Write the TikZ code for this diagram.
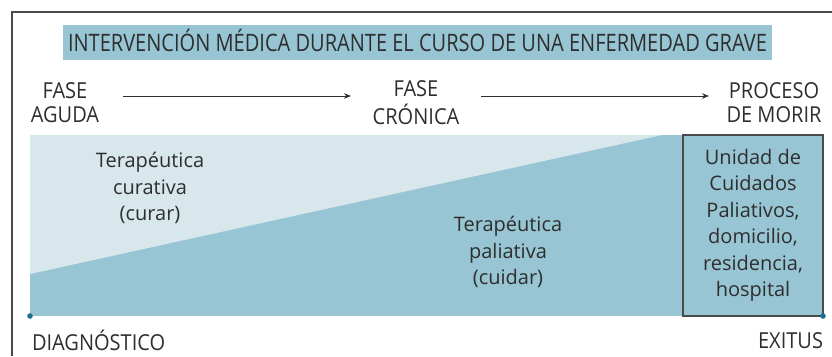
\documentclass[tikz,border=0pt]{standalone}
\usepackage{fontspec}
\setmainfont{Open Sans}
\usetikzlibrary{arrows.meta}
\definecolor{dark}{HTML}{98C5D4}
\definecolor{light}{HTML}{D7E7EC}
\definecolor{txt}{HTML}{2E2E2E}
\definecolor{framec}{HTML}{4A4A4A}
\definecolor{dotc}{HTML}{1F6E8C}
\newcommand{\condensed}[2]{\scalebox{#1}[1]{\fontsize{22}{24}\selectfont\begin{tabular}{@{}c@{}}#2\end{tabular}}}
\newcommand{\fitw}[2]{\resizebox{#1}{\height}{#2}}
\begin{document}
\begin{tikzpicture}[x=1pt,y=-1pt,
  every node/.style={text=txt, inner sep=0pt, outer sep=0pt},
  body/.style={align=center, font=\fontsize{20}{26.5}\selectfont},
  arr/.style={-{Stealth[length=7pt,width=5.5pt]}, line width=0.8pt, draw=txt},
  dotmark/.style={fill=dotc}]
\useasboundingbox (0,0) rectangle (832,356);
% frame
\draw[framec, line width=1.3pt] (12,356) -- (12,12) -- (832,12);
% title
\fill[dark] (63,25) rectangle (772,60);
\node[anchor=base] (title) at (417.5,51) {\fitw{699pt}{\fontsize{24}{28}\selectfont INTERVENCIÓN MÉDICA DURANTE EL CURSO DE UNA ENFERMEDAD GRAVE}};
% phases
\node (aguda) at (65,106) {\condensed{0.91}{FASE\\AGUDA}};
\node (cronica) at (416,106) {\condensed{0.91}{FASE\\CRÓNICA}};
\node (morir) at (774,106) {\condensed{0.91}{PROCESO\\DE MORIR}};
\coordinate (a1s) at (123,96);
\coordinate (a1e) at (351,96);
\coordinate (a2s) at (481,96);
\coordinate (a2e) at (709,96);
\draw[arr] (a1s) -- (a1e);
\draw[arr] (a2s) -- (a2e);
% main area
\fill[dark] (30,135) rectangle (683,316);
\fill[light] (30,135) -- (662,135) -- (30,274) -- cycle;
\node[body] (curativa) at (150,188) {Terapéutica\\curativa\\(curar)};
\node[body] (paliativa) at (508,252) {Terapéutica\\paliativa\\(cuidar)};
\node[draw=framec, fill=dark, line width=1.2pt, minimum width=140pt, minimum height=181pt, anchor=north west, body] (box) at (683,135) {};
\node[body] (boxtext) at (box.center) {Unidad de\\Cuidados\\Paliativos,\\domicilio,\\residencia,\\hospital};
\fill[dotmark] (30,316) circle (2.8pt);
\fill[dotmark] (823,316) circle (2.8pt);
% bottom labels
\node[anchor=base west] (diag) at (32,349) {\condensed{0.91}{DIAGNÓSTICO}};
\node[anchor=base east] (exitus) at (823,349) {\condensed{0.91}{EXITUS}};
\end{tikzpicture}
\end{document}
